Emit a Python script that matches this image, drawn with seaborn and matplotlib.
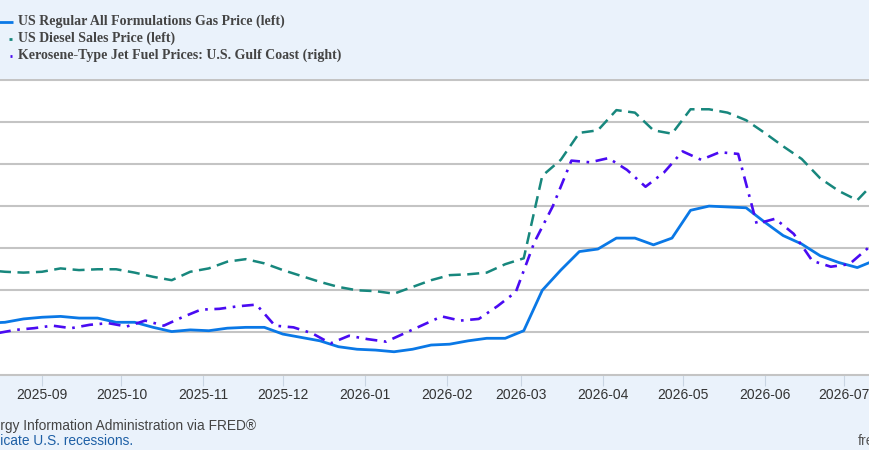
import numpy as np
import pandas as pd
import matplotlib
matplotlib.use("Agg")
import matplotlib.pyplot as plt
import matplotlib.dates as mdates
from matplotlib.lines import Line2D
import seaborn as sns

# ---------------- data ----------------
gas_dates = pd.date_range("2025-08-11", periods=49, freq="W-MON")
gas_price = [3.11, 3.12, 3.16, 3.18, 3.19, 3.17, 3.17, 3.12, 3.12, 3.06, 3.01, 3.03, 3.02,
             3.05, 3.06, 3.06, 2.98, 2.94, 2.90, 2.83, 2.80, 2.79, 2.77, 2.80, 2.85, 2.86,
             2.90, 2.93, 2.93, 3.02, 3.50, 3.74, 3.96, 3.99, 4.12, 4.12, 4.04, 4.12, 4.45,
             4.50, 4.49, 4.48, 4.31, 4.15, 4.05, 3.91, 3.83, 3.77, 3.86]
diesel_price = [3.74, 3.72, 3.71, 3.72, 3.76, 3.74, 3.75, 3.75, 3.71, 3.66, 3.62, 3.72, 3.76,
                3.84, 3.87, 3.82, 3.74, 3.67, 3.60, 3.54, 3.50, 3.49, 3.46, 3.54, 3.62, 3.68,
                3.69, 3.71, 3.81, 3.88, 4.86, 5.05, 5.37, 5.40, 5.64, 5.61, 5.40, 5.36, 5.65,
                5.65, 5.61, 5.52, 5.37, 5.21, 5.06, 4.83, 4.68, 4.57, 4.80]
jet_dates = pd.date_range("2025-08-08", periods=50, freq="W-FRI")
jet_price = [1.98, 1.99, 2.03, 2.05, 2.08, 2.05, 2.09, 2.11, 2.07, 2.14, 2.08, 2.18, 2.27,
             2.28, 2.31, 2.33, 2.08, 2.06, 1.99, 1.87, 1.96, 1.92, 1.89, 1.99, 2.09, 2.19,
             2.14, 2.16, 2.31, 2.48, 3.07, 3.50, 4.04, 4.02, 4.07, 3.93, 3.73, 3.90, 4.15,
             4.05, 4.14, 4.12, 3.29, 3.35, 3.17, 2.85, 2.78, 2.81, 3.00, 3.14]

series_labels = ["US Regular All Formulations Gas Price (left)",
                 "US Diesel Sales Price (left)",
                 "Kerosene-Type Jet Fuel Prices: U.S. Gulf Coast (right)"]
source_text = "Source: U.S. Energy Information Administration via FRED®"
link_text = "Shaded areas indicate U.S. recessions."
site_text = "fred.stlouisfed.org"

gas_df = pd.DataFrame({"date": gas_dates, "gas": gas_price, "diesel": diesel_price})
jet_df = pd.DataFrame({"date": jet_dates, "jet": jet_price})

# ---------------- style ----------------
BG = "#eaf2fb"
GRID = "#c4c4c4"
C_GAS = "#0a78e6"
C_DIESEL = "#17877d"
C_JET = "#4a0bf2"

sns.set_theme(style="white")
plt.rcParams["font.family"] = ["Liberation Sans Narrow", "Liberation Sans", "DejaVu Sans"]

W, H = 870, 450
fig = plt.figure(figsize=(W / 100, H / 100), dpi=100, facecolor=BG)

top_px, bot_px = 78.5, 374.5
ax = fig.add_axes([0, 1 - bot_px / H, 1, (bot_px - top_px) / H])
ax.set_facecolor("white")

px_per_dollar = 84.2
ymin_l = 2.5
ymax_l = ymin_l + (bot_px - top_px) / px_per_dollar
ax.set_ylim(ymin_l, ymax_l)

x_left = mdates.date2num(pd.Timestamp("2025-09-01")) - 42 / 2.647
x_right = x_left + W / 2.647
ax.set_xlim(x_left, x_right)

sns.lineplot(data=gas_df, x="date", y="diesel", ax=ax, color=C_DIESEL, linewidth=1.8,
             linestyle=(0, (4.8, 2.6)), zorder=3)
sns.lineplot(data=gas_df, x="date", y="gas", ax=ax, color=C_GAS, linewidth=2.0, zorder=4)

ax2 = ax.twinx()
ax2.set_ylim(ymin_l - 1.0, ymax_l - 1.0)
sns.lineplot(data=jet_df, x="date", y="jet", ax=ax2, color=C_JET, linewidth=1.9,
             linestyle=(0, (4.5, 2.5, 1.0, 2.5)), zorder=3)
ax2.set_xlim(x_left, x_right)

# grid
ax.set_yticks(np.arange(3.0, 6.01, 0.5))
ax.yaxis.grid(True, color=GRID, linewidth=1.5)
ax.xaxis.grid(False)
ax.tick_params(axis="y", left=False, labelleft=False)
for a in (ax, ax2):
    a.set_xlabel("")
    a.set_ylabel("")
    for s in ("left", "right", "top"):
        a.spines[s].set_visible(False)
ax2.spines["bottom"].set_visible(False)
ax2.tick_params(axis="y", right=False, labelright=False)
ax2.set_yticks([])
ax.spines["bottom"].set_color(GRID)
ax.spines["bottom"].set_linewidth(1.5)

ax.xaxis.set_major_locator(mdates.MonthLocator())
ax.xaxis.set_major_formatter(mdates.DateFormatter("%Y-%m"))
ax.tick_params(axis="x", bottom=True, length=8, width=0.8, color="#c9d5e3",
               pad=1.5, labelsize=10, labelcolor="#333333")

# legend (handles clipped at the left edge, as in the reference)
leg_font = dict(family=["Liberation Serif", "DejaVu Serif"], weight="bold", size=10,
                color="#444444")
ys = [21.5, 38.3, 55.0]
for lab, y in zip(series_labels, ys):
    fig.text(18.3 / W, 1 - y / H, lab, ha="left", va="center", **leg_font)
fig.add_artist(Line2D([-10 / W, 12.7 / W], [1 - 22 / H] * 2, color=C_GAS, linewidth=2.0,
                      transform=fig.transFigure, solid_capstyle="butt"))
fig.add_artist(Line2D([9.3 / W, 12.3 / W], [1 - 39 / H] * 2, color=C_DIESEL, linewidth=2.0,
                      transform=fig.transFigure, solid_capstyle="butt"))
fig.add_artist(Line2D([9.6 / W, 11.8 / W], [1 - 55.7 / H] * 2, color=C_JET, linewidth=2.0,
                      transform=fig.transFigure, solid_capstyle="butt"))

# footer
fig.text(256 / W, 1 - 426 / H, source_text, ha="right", va="center", fontsize=9.9,
         color="#444444")
fig.text(133 / W, 1 - 441 / H, link_text, ha="right", va="center", fontsize=9.95,
         color="#1d5fa5")
fig.text(858 / W, 1 - 441 / H, site_text, ha="left", va="center", fontsize=10,
         color="#555555")

fig.savefig("out.png", dpi=100, facecolor=BG)
